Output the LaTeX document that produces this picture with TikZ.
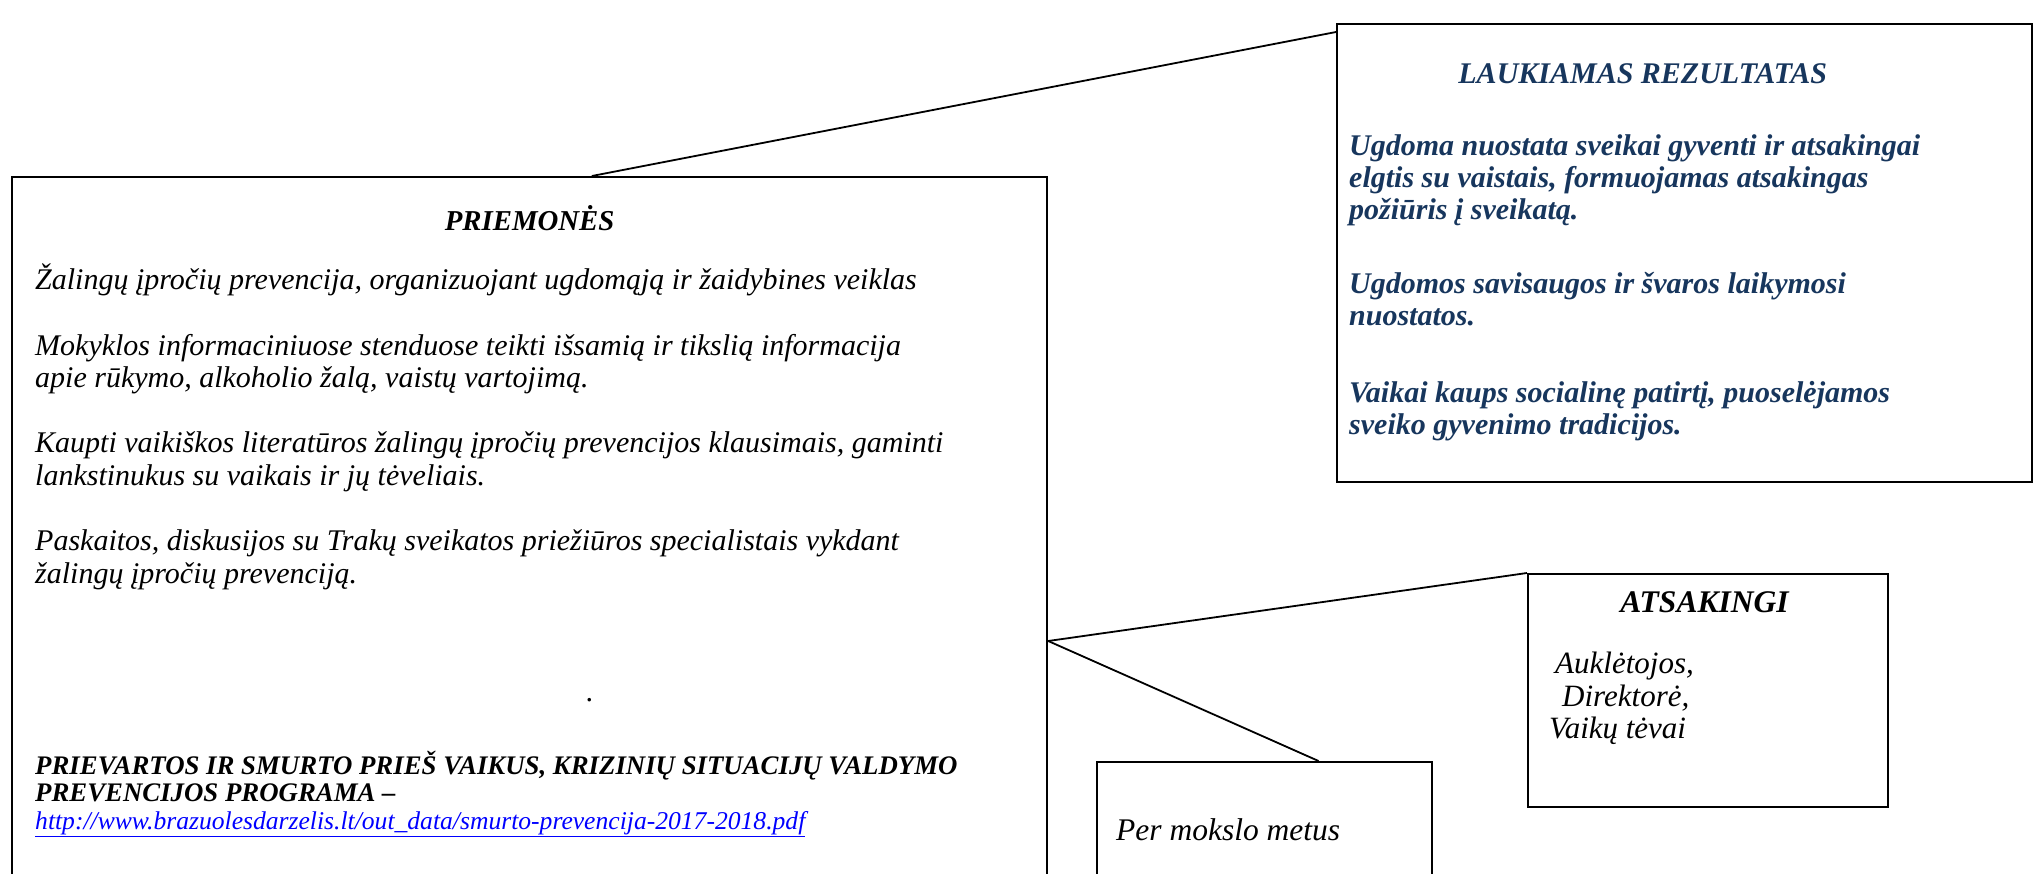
\documentclass[tikz,border=0pt]{standalone}
\usepackage{fontspec}
\setmainfont{Liberation Serif}
\usetikzlibrary{positioning, calc}
\definecolor{resultBlue}{HTML}{17365D}
\definecolor{linkBlue}{HTML}{0000FF}
\definecolor{frameBlack}{HTML}{000000}

\begin{document}
\begin{tikzpicture}[
    x=1pt, y=-1pt,
    framebox/.style={
        draw=frameBlack, line width=2.2pt, inner sep=0pt,
        anchor=north west
    },
    connector/.style={frameBlack, line width=1.8pt},
    bodytext/.style={
        anchor=north west, inner sep=0pt, align=left,
        font=\fontsize{30}{32.6}\selectfont\itshape,
        execute at begin node={\rule{0pt}{29pt}}
    },
    titletext/.style={
        anchor=base, inner sep=0pt,
        font=\fontsize{28.8}{32.4}\selectfont\bfseries\itshape
    },
    smalltext/.style={
        anchor=north west, inner sep=0pt, align=left,
        font=\fontsize{26.8}{27}\selectfont\bfseries\itshape,
        execute at begin node={\rule{0pt}{25pt}}
    },
]
\useasboundingbox (0,0) rectangle (2034,873);
\clip (0,0) rectangle (2034,873);

% ============================================================
%  BOXES
% ============================================================
\node[framebox, minimum width=1035pt, minimum height=760pt] (mainbox) at (11,176) {};
\node[framebox, minimum width=695pt, minimum height=458pt] (resultbox) at (1336,23) {};
\node[framebox, minimum width=360pt, minimum height=233pt] (whobox) at (1527,573) {};
\node[framebox, minimum width=335pt, minimum height=160pt] (timebox) at (1096,761) {};

% ============================================================
%  PRIEMONES
% ============================================================
\node[titletext] (mainTitle) at ($(mainbox.north west)!0.5!(mainbox.north east)+(0,54)$)
    {PRIEMONĖS};

\node[bodytext] (mainBody) at ($(mainbox.north west)+(24,88)$)
    {Žalingų įpročių prevencija, organizuojant ugdomąją ir žaidybines veiklas\\[32.6pt]
     Mokyklos informaciniuose stenduose teikti išsamią ir tikslią informacija\\
     apie rūkymo, alkoholio žalą, vaistų vartojimą.\\[32.6pt]
     Kaupti vaikiškos literatūros žalingų įpročių prevencijos klausimais, gaminti\\
     lankstinukus su vaikais ir jų tėveliais.\\[32.6pt]
     Paskaitos, diskusijos su Trakų sveikatos priežiūros specialistais vykdant\\
     žalingų įpročių prevenciją.};

\node[bodytext, anchor=base, execute at begin node={}] (dot) at (590,701) {.};

\node[smalltext] (program) at ($(mainbox.north west)+(24,575)$)
    {PRIEVARTOS IR SMURTO PRIEŠ VAIKUS, KRIZINIŲ SITUACIJŲ VALDYMO\\
     PREVENCIJOS PROGRAMA –};
\node[smalltext, font=\fontsize{25.6}{27}\selectfont\itshape, text=linkBlue,
      below=2pt of program.south west, anchor=north west] (programLink)
    {\underline{http://www.brazuolesdarzelis.lt/out\_data/smurto-prevencija-2017-2018.pdf}};

% ============================================================
%  LAUKIAMAS REZULTATAS
% ============================================================
\node[titletext, font=\fontsize{30}{32.4}\selectfont\bfseries\itshape, text=resultBlue]
    (resultTitle) at ($(resultbox.north west)!0.44!(resultbox.north east)+(0,60)$)
    {LAUKIAMAS REZULTATAS};

\node[bodytext, font=\fontsize{30}{32.4}\selectfont\bfseries\itshape, text=resultBlue]
    (resultBody) at ($(resultbox.north west)+(13,111)$)
    {Ugdoma nuostata sveikai gyventi ir atsakingai\\
     elgtis su vaistais, formuojamas atsakingas\\
     požiūris į sveikatą.\\[41pt]
     Ugdomos savisaugos ir švaros laikymosi\\
     nuostatos.\\[44pt]
     Vaikai kaups socialinę patirtį, puoselėjamos\\
     sveiko gyvenimo tradicijos.};

% ============================================================
%  ATSAKINGI / LAIKAS
% ============================================================
\node[titletext, font=\fontsize{31.5}{32.4}\selectfont\bfseries\itshape]
    (whoTitle) at ($(whobox.north west)!0.49!(whobox.north east)+(0,39)$)
    {ATSAKINGI};
\node[bodytext, font=\fontsize{31}{32.4}\selectfont\itshape] (whoBody)
    at ($(whobox.north west)+(22,79)$)
    {\hspace*{6pt}Auklėtojos,\\ \hspace*{13pt}Direktorė,\\ Vaikų tėvai};

\node[bodytext, font=\fontsize{31.5}{32.4}\selectfont\itshape] (timeBody)
    at ($(timebox.north west)+(20,50)$)
    {Per mokslo metus};

% ============================================================
%  CONNECTORS
% ============================================================
\draw[connector] ($(mainbox.north west)!0.56!(mainbox.north east)$)
    -- ($(resultbox.north west)+(0,9)$);
\coordinate (hub) at ($(mainbox.north east)+(0,465)$);
\draw[connector] (hub) -- (whobox.north west);
\draw[connector] (hub) -- ($(timebox.north west)!0.66!(timebox.north east)$);

\end{tikzpicture}
\end{document}
